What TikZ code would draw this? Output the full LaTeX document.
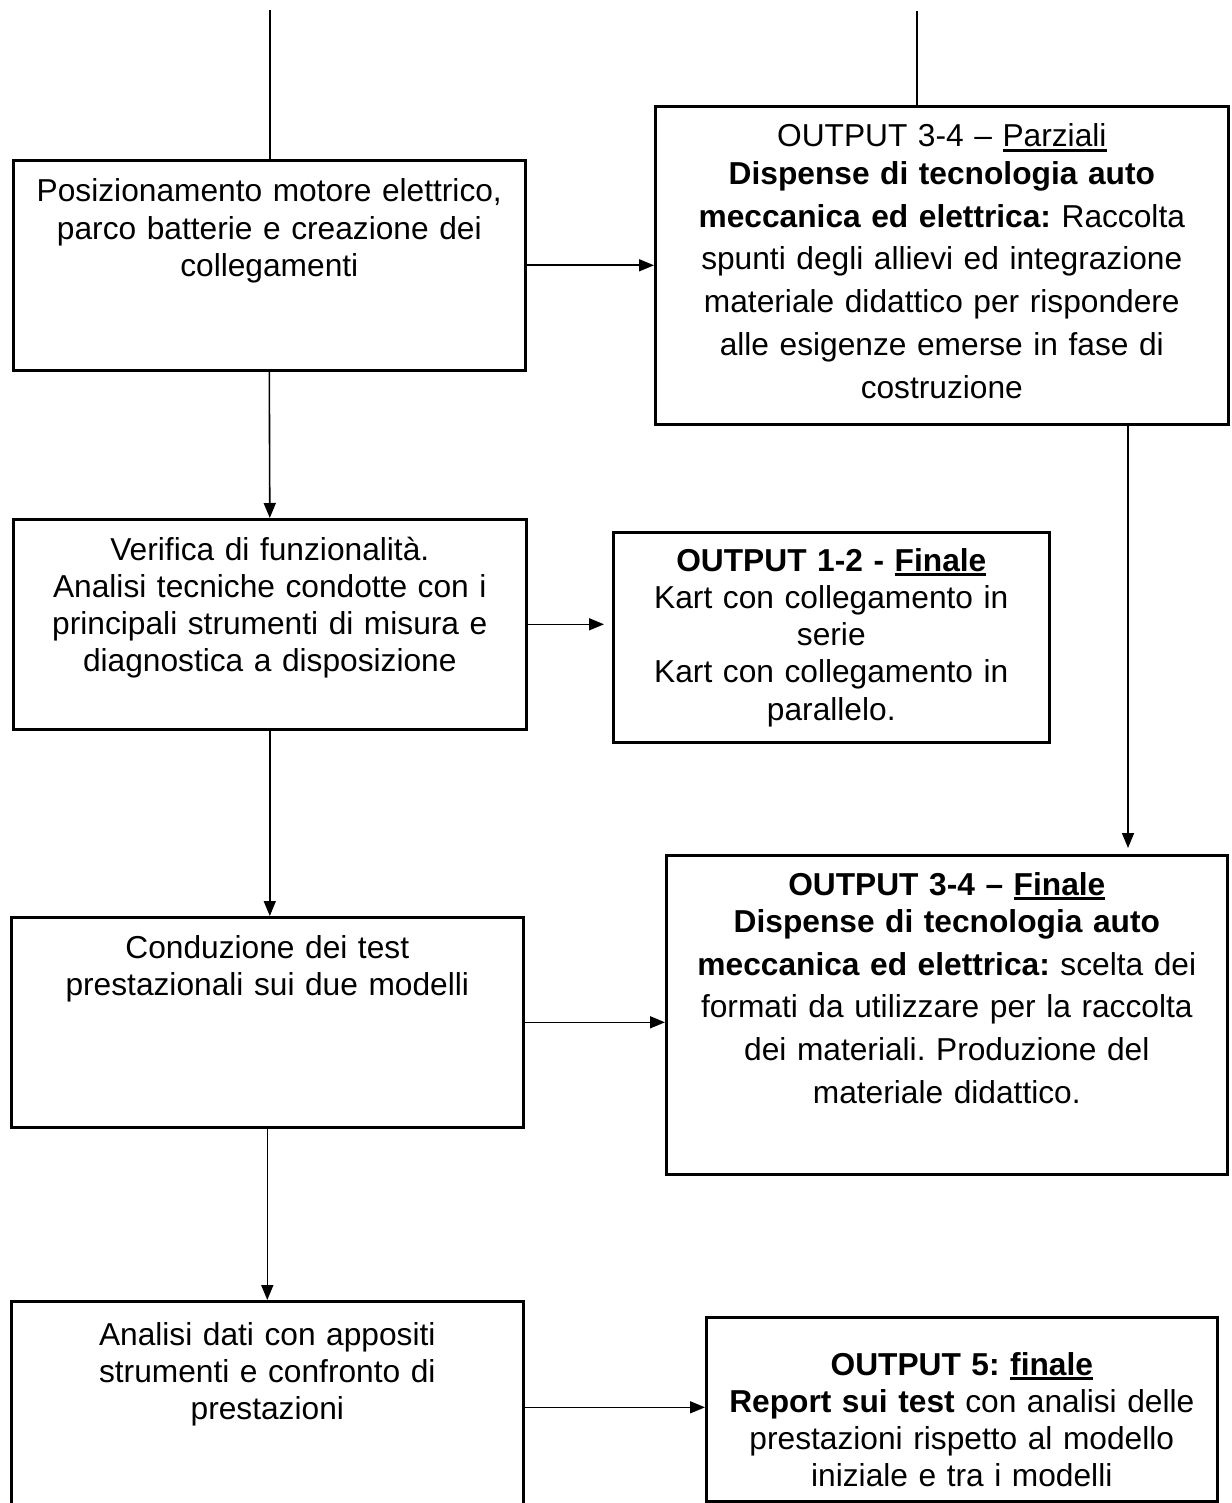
\documentclass[tikz,border=0pt]{standalone}
\usepackage{fontspec}
\setmainfont{Liberation Sans}
\usetikzlibrary{arrows.meta,calc}
\frenchspacing
\newsavebox{\ulsave}
\newcommand{\ulbox}[1]{\sbox\ulsave{#1}\rlap{\rule[-4.6pt]{\wd\ulsave}{2.2pt}}\usebox\ulsave}
\begin{document}
\begin{tikzpicture}[x=1pt,y=-1pt,
  box/.style={draw=black,line width=2.6pt,inner sep=0pt,anchor=north west},
  txt/.style={anchor=base,align=center,inner sep=0pt,font=\fontsize{31.7}{37.3}\selectfont},
  conn/.style={line width=1.6pt},
  arr/.style={line width=1.6pt,-{Triangle[length=15pt,width=12pt]}}
]
\fill[white] (0,0) rectangle (1231,1503);
\useasboundingbox (0,0) rectangle (1231,1503);
\clip (0,0) rectangle (1231,1503);

% boxes
\node[box,minimum width=512pt,minimum height=210pt] (A) at (12,159) {};
\node[box,minimum width=573pt,minimum height=318pt] (B) at (654,105) {};
\node[box,minimum width=513pt,minimum height=210pt] (C) at (12,518) {};
\node[box,minimum width=436pt,minimum height=210pt] (D) at (612,531) {};
\node[box,minimum width=512pt,minimum height=210pt] (F) at (10,916) {};
\node[box,minimum width=561pt,minimum height=319pt] (E) at (665,854) {};
\node[box,minimum width=512pt,minimum height=212pt] (G) at (10,1300) {};
\node[box,minimum width=511pt,minimum height=184pt] (H) at (705,1316) {};

% texts
\node[txt,text width=500pt] (tA) at (A.center |- 0,202) {Posizionamento motore elettrico,\\parco batterie e creazione dei\\collegamenti};
\node[txt,text width=560pt] (tB) at (B.center |- 0,147) {OUTPUT 3-4 – \ulbox{Parziali}\\\textbf{Dispense di tecnologia auto}\\[5.5pt]\textbf{meccanica ed elettrica:} Raccolta\\[5.5pt]spunti degli allievi ed integrazione\\[5.5pt]materiale didattico per rispondere\\[5.5pt]alle esigenze emerse in fase di\\[5.5pt]costruzione};
\node[txt,text width=500pt] (tC) at (C.center |- 0,560) {Verifica di funzionalità.\\Analisi tecniche condotte con i\\principali strumenti di misura e\\diagnostica a disposizione};
\node[txt,text width=430pt] (tD) at (D.center |- 0,571) {\textbf{OUTPUT 1-2 - \ulbox{Finale}}\\Kart con collegamento in\\serie\\Kart con collegamento in\\parallelo.};
\node[txt,text width=500pt] (tF) at (F.center |- 0,958) {Conduzione dei test\\prestazionali sui due modelli};
\node[txt,text width=550pt] (tE) at (E.center |- 0,895) {\textbf{OUTPUT 3-4 – \ulbox{Finale}}\\\textbf{Dispense di tecnologia auto}\\[5.5pt]\textbf{meccanica ed elettrica:} scelta dei\\[5.5pt]formati da utilizzare per la raccolta\\[5.5pt]dei materiali. Produzione del\\[5.5pt]materiale didattico.};
\node[txt,text width=500pt] (tG) at (G.center |- 0,1345) {Analisi dati con appositi\\strumenti e confronto di\\prestazioni};
\node[txt,text width=505pt] (tH) at (H.center |- 0,1375) {\textbf{OUTPUT 5: \ulbox{finale}}\\\textbf{Report sui test} con analisi delle\\prestazioni rispetto al modello\\iniziale e tra i modelli};

% connectors
\coordinate (tl) at (270,10);
\coordinate (tr) at (917,11);
\coordinate (xr) at (1128,0);
\draw[conn] (tl) -- (tl |- A.north);
\draw[conn] (tr) -- (tr |- B.north);
\draw[arr] (A.east) -- (A.east -| B.west);
\draw[arr] (A.south) -- (C.north);
\draw[arr,shorten >=8pt] (C.east) -- (C.east -| D.west);
\draw[arr,shorten >=6pt] (xr |- B.south) -- (xr |- E.north);
\draw[arr] (C.south) -- (C.south |- F.north);
\draw[arr] (F.east) -- (F.east -| E.west);
\draw[arr] (F.south) -- (F.south |- G.north);
\draw[arr] (G.east) -- (G.east -| H.west);
\end{tikzpicture}
\end{document}
